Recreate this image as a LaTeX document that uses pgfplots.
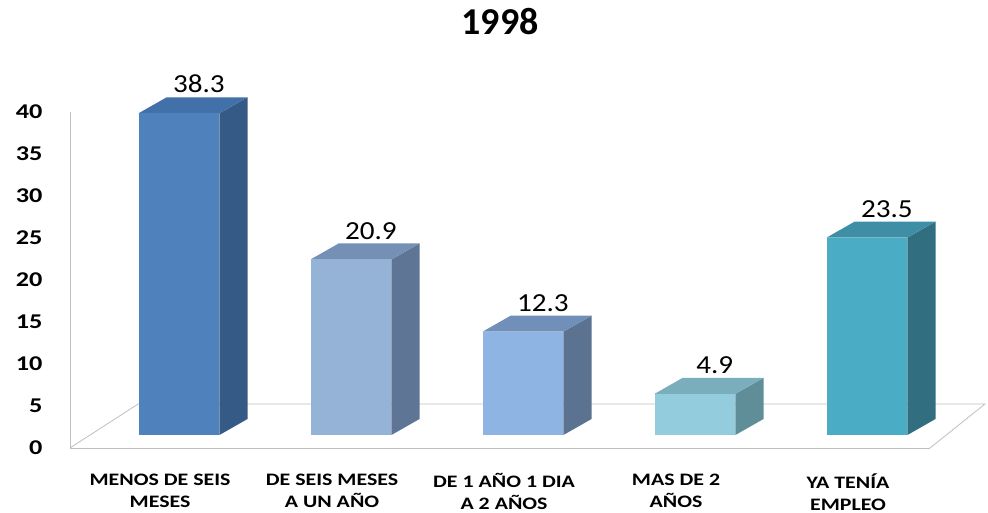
\documentclass[border=0pt]{standalone}
\usepackage{fontspec}
\setmainfont{Carlito}
\newfontfamily\widefont[FakeStretch=1.25]{Carlito}
\newfontfamily\labfont[FakeStretch=1.12]{Carlito}
\usepackage{pgfplots}
\usepackage{pgfplotstable}
\pgfplotsset{compat=1.18}

\definecolor{floorgray}{HTML}{BFBFBF}
\definecolor{b0front}{HTML}{4F81BD}\definecolor{b0side}{HTML}{355A85}\definecolor{b0top}{HTML}{4270A8}
\definecolor{b1front}{HTML}{95B3D7}\definecolor{b1side}{HTML}{5E7595}\definecolor{b1top}{HTML}{7490B5}
\definecolor{b2front}{HTML}{8DB4E2}\definecolor{b2side}{HTML}{5B7290}\definecolor{b2top}{HTML}{7090BA}
\definecolor{b3front}{HTML}{93CDDD}\definecolor{b3side}{HTML}{5F8D98}\definecolor{b3top}{HTML}{7AAEBC}
\definecolor{b4front}{HTML}{4BACC6}\definecolor{b4side}{HTML}{306E80}\definecolor{b4top}{HTML}{3E8FA6}

\pgfplotstableread{
x v
1 38.3
2 20.9
3 12.3
4 4.9
5 23.5
}\bardata

\begin{document}
\begin{tikzpicture}
\def\barbase{1.55}\def\barhw{0.235}\def\bardx{0.163}\def\bardy{1.9}
\begin{axis}[
  at={(0,0)}, anchor=south west,
  scale only axis, width=860pt, height=336pt,
  xmin=0.366, xmax=5.366, ymin=0, ymax=40,
  clip=false,
  axis lines=left,
  axis line style={-, draw=floorgray, line width=0.8pt},
  xtick={1,2,3,4,5},
  xticklabels={{MENOS DE SEIS\\MESES},{DE SEIS MESES\\A UN AÑO},{DE 1 AÑO 1 DIA\\A 2 AÑOS},{MAS DE 2\\AÑOS},{YA TENÍA\\EMPLEO}},
  xticklabel style={align=center, font=\widefont\bfseries\fontsize{17.5}{22}\selectfont, anchor=north, yshift=-22pt, xshift=-19pt, text=black},
  ytick={0,5,...,40},
  yticklabel style={font=\widefont\bfseries\fontsize{21}{24}\selectfont, xshift=-24pt, text=black},
  major tick length=0pt,
  /pgf/number format/assume math mode=true,
  title={1998},
  title style={font=\bfseries\fontsize{38}{40}\selectfont, yshift=68pt},
]
\addplot[floorgray, line width=0.8pt] coordinates {(0.366,0) (0.762,5.24) (5.686,5.24) (5.366,0)};

\pgfplotsinvokeforeach{0,...,4}{
  \pgfplotstablegetelem{#1}{x}\of\bardata \let\bcx\pgfplotsretval
  \pgfplotstablegetelem{#1}{v}\of\bardata \let\bcv\pgfplotsretval
  \pgfmathsetmacro\bxl{\bcx-\barhw}
  \pgfmathsetmacro\bxr{\bcx+\barhw}
  \pgfmathsetmacro\bxrr{\bcx+\barhw+\bardx}
  \pgfmathsetmacro\bxll{\bcx-\barhw+\bardx}
  \pgfmathsetmacro\byt{\barbase+\bcv}
  \pgfmathsetmacro\bytt{\barbase+\bcv+\bardy}
  \pgfmathsetmacro\bybb{\barbase+\bardy}
  \edef\bartmp{%
    \noexpand\addplot[draw=none, fill=b#1side] coordinates {(\bxr,\barbase) (\bxrr,\bybb) (\bxrr,\bytt) (\bxr,\byt)} --cycle;
    \noexpand\addplot[draw=none, fill=b#1top] coordinates {(\bxl,\byt) (\bxr,\byt) (\bxrr,\bytt) (\bxll,\bytt)} --cycle;
    \noexpand\addplot[draw=none, fill=b#1front] coordinates {(\bxl,\barbase) (\bxr,\barbase) (\bxr,\byt) (\bxl,\byt)} --cycle;
  }%
  \bartmp
}

\addplot[draw=none, mark=none, nodes near coords, point meta=explicit,
  nodes near coords style={font=\labfont\fontsize{26}{28}\selectfont, anchor=south, text=black, inner sep=2pt, yshift=2pt}]
  table[x expr=\thisrow{x}+0.115, y expr=\thisrow{v}+\barbase+\bardy, meta=v] {\bardata};
\end{axis}
\pgfresetboundingbox
\path (-70pt,-65pt) rectangle (918pt,448pt);
\end{tikzpicture}
\end{document}
